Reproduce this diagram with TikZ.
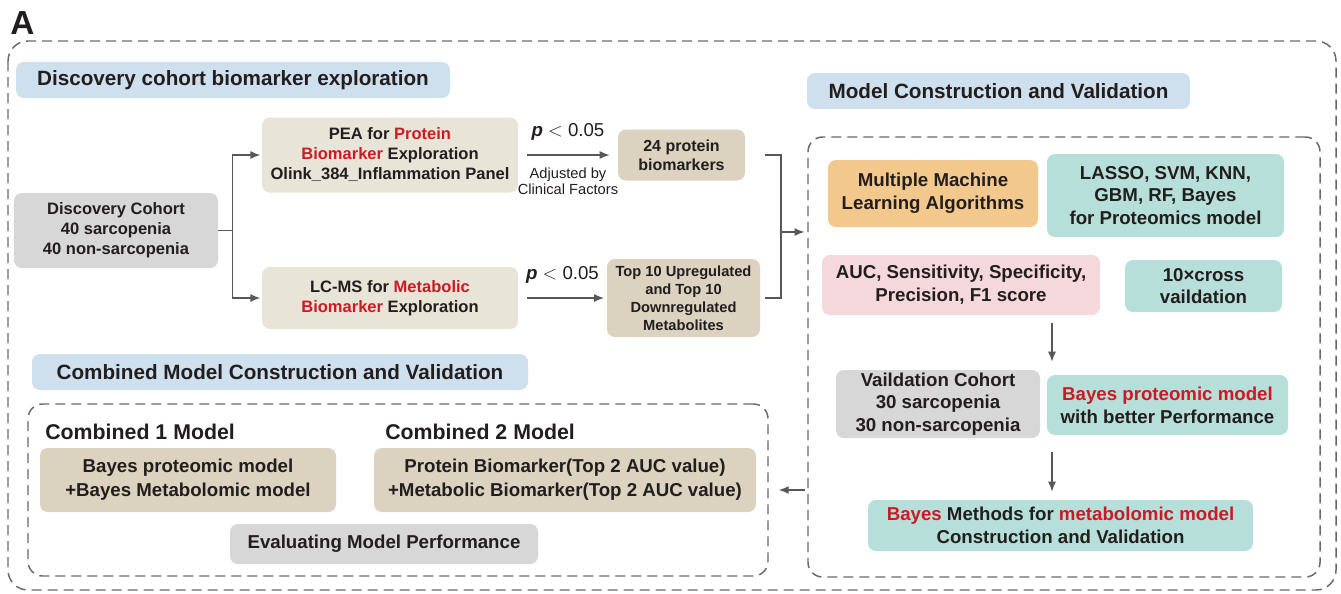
\documentclass[tikz,border=0pt]{standalone}
\usepackage{fontspec}
\setmainfont{Liberation Sans}
\usetikzlibrary{arrows.meta,positioning}

\definecolor{hdblue}{RGB}{206,224,237}
\definecolor{sand}{RGB}{233,228,216}
\definecolor{tan}{RGB}{219,210,191}
\definecolor{ash}{RGB}{215,215,215}
\definecolor{peach}{RGB}{242,200,140}
\definecolor{mint}{RGB}{183,223,218}
\definecolor{blush}{RGB}{245,216,219}
\definecolor{hired}{RGB}{205,25,35}
\definecolor{ink}{RGB}{35,30,30}
\definecolor{wire}{RGB}{88,88,88}
\definecolor{frame}{RGB}{105,105,105}

\newcommand{\hl}[1]{\textcolor{hired}{#1}}

\tikzset{
  box/.style={rounded corners=6pt, inner sep=0pt, align=center, text=ink,
    font=\bfseries\fontsize{12.4}{15}\selectfont},
  rbox/.style={box, font=\bfseries\fontsize{14}{17}\selectfont},
  cbox/.style={box, fill=tan, font=\bfseries\fontsize{14}{18}\selectfont},
  hdr/.style={box, fill=hdblue, minimum height=27pt,
    font=\bfseries\fontsize{15.5}{18}\selectfont},
  grp/.style={draw=frame, line width=1.1pt, dash pattern=on 7.5pt off 4.5pt,
    rounded corners=11pt, inner sep=0pt},
  link/.style={draw=wire, line width=1.1pt},
  arr/.style={link, -{Latex[length=7.5pt,width=6pt]}},
}

\begin{document}
\begin{tikzpicture}[x=0.75pt,y=-0.75pt]
  \useasboundingbox (0,0) rectangle (1341,593);

  % panel letter and outer frame
  \node[anchor=north west, inner sep=0pt, text=ink,
    font=\bfseries\fontsize{25}{25}\selectfont] (tag) at (10,11) {A};
  \draw[grp, rounded corners=15pt] (8,41) rectangle (1336,590);

  % section headers
  \node[hdr, minimum width=325.5pt] (disctitle) at (233,80) {Discovery cohort biomarker exploration};
  \node[hdr, minimum width=287.25pt] (modeltitle) at (998.5,91) {Model Construction and Validation};
  \node[hdr, minimum width=372pt] (cmbtitle) at (280,372) {Combined Model Construction and Validation};

  % dashed groups
  \node[grp, minimum width=384pt, minimum height=330pt] (model) at (1064,357) {};
  \node[grp, minimum width=555pt, minimum height=129pt] (cmb) at (398,490) {};

  % discovery part
  \node[box, fill=ash, minimum width=153pt, minimum height=56.25pt] (disc) at (116,230.5)
    {Discovery Cohort\\40 sarcopenia\\40 non-sarcopenia};
  \node[box, fill=sand, minimum width=192pt, minimum height=56.25pt] (pea) at (390,155)
    {PEA for \hl{Protein}\\\hl{Biomarker} Exploration\\Olink\_384\_Inflammation Panel};
  \node[box, fill=sand, minimum width=192pt, minimum height=46.5pt] (lcms) at (390,298)
    {LC-MS for \hl{Metabolic}\\\hl{Biomarker} Exploration};
  \node[box, fill=tan, minimum width=95.25pt, minimum height=38.25pt,
    font=\bfseries\fontsize{12}{14.5}\selectfont] (prot24) at (681.5,155)
    {24 protein\\biomarkers};
  \node[box, fill=tan, minimum width=114.75pt, minimum height=58.5pt,
    font=\bfseries\fontsize{11}{13.5}\selectfont] (top10) at (683.5,298)
    {Top 10 Upregulated\\and Top 10\\Downregulated\\Metabolites};

  % model construction part
  \node[rbox, fill=peach, minimum width=157.5pt, minimum height=50.25pt] (mla) at (933,193.5)
    {Multiple Machine\\Learning Algorithms};
  \node[rbox, fill=mint, minimum width=177.75pt, minimum height=62.25pt] (algos) at (1165.5,195.5)
    {LASSO, SVM, KNN,\\GBM, RF, Bayes\\for Proteomics model};
  \node[rbox, fill=blush, minimum width=208.5pt, minimum height=45pt] (metrics) at (961,285)
    {AUC, Sensitivity, Specificity,\\Precision, F1 score};
  \node[rbox, fill=mint, minimum width=117.75pt, minimum height=39pt] (cv) at (1203.5,286)
    {10×cross\\vaildation};
  \node[rbox, fill=ash, minimum width=153pt, minimum height=51pt] (valid) at (938,404)
    {Vaildation Cohort\\30 sarcopenia\\30 non-sarcopenia};
  \node[rbox, fill=mint, minimum width=180.75pt, minimum height=45pt] (bayesprot) at (1167.5,405)
    {\hl{Bayes proteomic model}\\with better Performance};
  \node[rbox, fill=mint, minimum width=288.75pt, minimum height=38.25pt] (bayesmet) at (1060.5,525.5)
    {\hl{Bayes} Methods for \hl{metabolomic model}\\Construction and Validation};

  % combined part
  \node[anchor=west, inner sep=0pt, text=ink, font=\bfseries\fontsize{16}{18}\selectfont]
    (c1lbl) at (45,432) {Combined 1 Model};
  \node[anchor=west, inner sep=0pt, text=ink, font=\bfseries\fontsize{16}{18}\selectfont]
    (c2lbl) at (385,432) {Combined 2 Model};
  \node[cbox, minimum width=222pt, minimum height=48pt] (comb1) at (188,480)
    {Bayes proteomic model\\+Bayes Metabolomic model};
  \node[cbox, minimum width=286.5pt, minimum height=48pt] (comb2) at (565,480)
    {Protein Biomarker(Top 2 AUC value)\\+Metabolic Biomarker(Top 2 AUC value)};
  \node[cbox, fill=ash, minimum width=231pt, minimum height=30pt] (evalp) at (384,544)
    {Evaluating Model Performance};

  % connectors
  \draw[arr, shorten >=1pt] (disc.east) -- ++(14,0) |- (pea.west);
  \draw[arr, shorten >=1pt] (disc.east) -- ++(14,0) |- (lcms.west);
  \draw[arr, shorten <=6.75pt, shorten >=6pt] (pea.east) --
    node[above=7pt, text=ink, font=\fontsize{14}{14}\selectfont] {\textbf{\textit{p}} $<$ 0.05}
    node[below=6pt, text=ink, align=center, font=\fontsize{11}{12}\selectfont] {Adjusted by\\Clinical Factors}
    (prot24.west);
  \draw[arr, shorten <=6.75pt, shorten >=2pt] (lcms.east) --
    node[above=7pt, text=ink, font=\fontsize{14}{14}\selectfont] {\textbf{\textit{p}} $<$ 0.05}
    (top10.west);

  \coordinate (merge) at (781,232);
  \draw[link] (prot24.east) ++(20,0) -| (merge);
  \draw[link] (top10.east) ++(5,0) -| (merge);
  \draw[arr, shorten >=2pt] (merge) -- (merge -| model.west);

  \coordinate (col) at (1052,0);
  \draw[arr, shorten <=6pt, shorten >=6pt] (metrics.south -| col) -- (valid.north -| col);
  \draw[arr, shorten <=10.5pt, shorten >=6pt] (valid.south -| col) -- (bayesmet.north -| col);
  \draw[arr, shorten <=1.5pt, shorten >=7.5pt] (model.west |- cmb.east) -- (cmb.east);
\end{tikzpicture}
\end{document}
